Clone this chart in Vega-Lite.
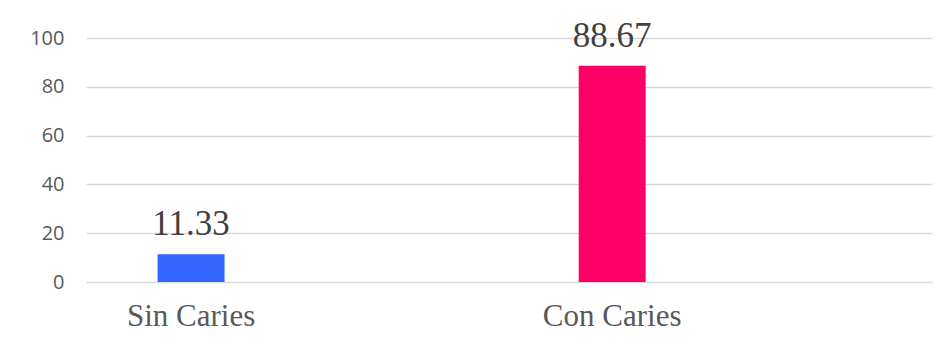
{
  "$schema": "https://vega.github.io/schema/vega-lite/v6.json",
  "autosize": {"type": "none"},
  "width": 846,
  "height": 244,
  "padding": {"left": 86, "top": 38, "right": 18, "bottom": 65},
  "background": "white",
  "config": {"view": {"stroke": null}},
  "data": {"values": [
    {"categoria": "Sin Caries", "porcentaje": 11.33, "color": "#3366FF"},
    {"categoria": "Con Caries", "porcentaje": 88.67, "color": "#FF0066"}
  ]},
  "encoding": {
    "x": {
      "field": "categoria", "type": "nominal", "sort": ["Sin Caries", "Con Caries"],
      "scale": {"paddingInner": 0.841, "paddingOuter": 0.425, "align": 0.2},
      "axis": {"title": null, "domain": false, "ticks": false, "labelAngle": 0,
        "labelFont": "Liberation Serif", "labelFontSize": 31, "labelColor": "#595959",
        "labelPadding": 19}
    },
    "y": {
      "field": "porcentaje", "type": "quantitative",
      "scale": {"domain": [0, 100]},
      "axis": {"title": null, "domain": false, "ticks": false, "values": [0, 20, 40, 60, 80, 100],
        "labelFont": "Open Sans", "labelFontSize": 20, "labelColor": "#595959", "labelPadding": 22,
        "gridColor": "#d9d9d9", "gridWidth": 1.3}
    }
  },
  "layer": [
    {"mark": {"type": "bar"}, "encoding": {"color": {"field": "color", "type": "nominal", "scale": null}}},
    {"mark": {"type": "text", "baseline": "alphabetic", "dy": -19, "font": "Liberation Serif", "fontSize": 35, "color": "#404040"},
     "encoding": {"text": {"field": "porcentaje", "type": "quantitative", "format": ".2f"}}}
  ]
}
